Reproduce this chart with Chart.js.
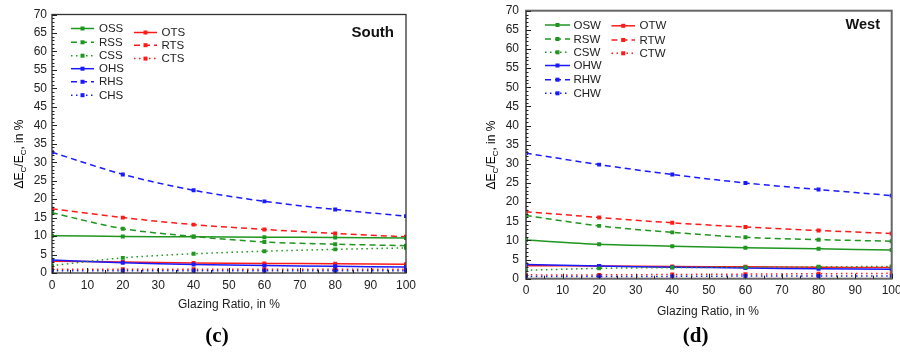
<!DOCTYPE html>
<html><head><meta charset="utf-8">
<script src="https://cdn.jsdelivr.net/npm/chart.js@4.4.0/dist/chart.umd.min.js"></script>
<style>
html,body{margin:0;padding:0;background:#fff;width:900px;height:352px;overflow:hidden}
.w{position:absolute;top:0;width:450px;height:352px}
canvas{display:block}
</style></head><body>
<div class="w" style="left:0"><canvas id="c1" width="450" height="352" style="width:450px;height:352px"></canvas></div>
<div class="w" style="left:450px"><canvas id="c2" width="450" height="352" style="width:450px;height:352px"></canvas></div>
<script>
// ---- data ----
const glazingRatio = [0, 20, 40, 60, 80, 100];
const yTickLabels = [0, 5, 10, 15, 20, 25, 30, 35, 40, 45, 50, 55, 60, 65, 70];
const xTickLabels = [0, 10, 20, 30, 40, 50, 60, 70, 80, 90, 100];

// South
const OSS = [10.1, 9.9, 9.8, 9.7, 9.6, 9.5];
const RSS = [16.3, 12.0, 9.9, 8.4, 7.8, 7.4];
const CSS = [2.0, 4.1, 5.2, 5.9, 6.4, 6.8];
const OHS = [3.5, 2.8, 2.3, 2.0, 1.8, 1.6];
const RHS = [32.7, 26.7, 22.4, 19.4, 17.2, 15.4];
const CHS = [0.6, 0.6, 0.6, 0.6, 0.6, 0.6];
const OTS = [3.2, 3.0, 2.7, 2.6, 2.5, 2.4];
const RTS = [17.4, 15.0, 13.1, 11.8, 10.7, 9.8];
const CTS = [1.0, 1.0, 1.0, 1.0, 1.0, 1.0];

// West
const OSW = [10.1, 9.0, 8.5, 8.1, 7.8, 7.5];
const RSW = [16.5, 13.8, 12.1, 10.8, 10.2, 9.8];
const CSW = [2.2, 2.7, 2.9, 3.0, 3.1, 3.2];
const OHW = [3.7, 3.3, 3.0, 2.8, 2.6, 2.5];
const RHW = [32.8, 29.8, 27.2, 25.0, 23.3, 21.7];
const CHW = [0.6, 0.6, 0.6, 0.7, 0.7, 0.7];
const OTW = [3.4, 3.3, 3.2, 3.1, 3.0, 2.9];
const RTW = [17.5, 16.0, 14.6, 13.5, 12.6, 11.8];
const CTW = [1.0, 1.0, 1.1, 1.2, 1.3, 1.4];

// ---- styles ----
const GREEN = '#1f961f', RED = '#ff1a1a', BLUE = '#1a1aff';
const SOLID = [], DASH = [6, 4], DOT = [1.5, 3.5];
const FONT = '"Liberation Sans", Arial, sans-serif';

function ds(label, data, color, dash) {
  return {
    label, data: data.map((v, i) => ({x: glazingRatio[i], y: v})),
    borderColor: color, backgroundColor: color, borderWidth: 1.5,
    borderDash: dash, pointStyle: 'rect', pointRadius: 2.8, pointBorderWidth: 0,
    pointHoverRadius: 2.8, tension: 0.3, fill: false
  };
}

function makeChart(id, sets, L) {
  const plugin = {
    id: 'deco' + id,
    beforeDraw(chart) {
      const ctx = chart.ctx;
      if (L.bg) { ctx.save(); ctx.fillStyle = L.bg; ctx.fillRect(L.bg[1] || 35, 0, 415, 317); ctx.restore(); }
    },
    afterDraw(chart) {
      const ctx = chart.ctx, a = chart.chartArea, xs = chart.scales.x, ys = chart.scales.y;
      ctx.save();
      // frame
      ctx.strokeStyle = L.frameColor; ctx.lineWidth = L.frameWidth; ctx.setLineDash([]);
      ctx.strokeRect(a.left, a.top, a.right - a.left, a.bottom - a.top);
      // ticks
      ctx.lineWidth = 1; ctx.strokeStyle = '#222';
      ctx.beginPath();
      for (let v = 0; v <= 70; v++) {
        const y = Math.round(ys.getPixelForValue(v)) + 0.5;
        const len = v % 5 === 0 ? 5 : 2.5;
        ctx.moveTo(a.left, y); ctx.lineTo(a.left + len, y);
      }
      for (let v = 0; v <= 100; v += 5) {
        const x = Math.round(xs.getPixelForValue(v)) + 0.5;
        const len = v % 10 === 0 ? 5 : 3;
        ctx.moveTo(x, a.bottom); ctx.lineTo(x, a.bottom - len);
      }
      ctx.stroke();
      // legend
      L.legend.forEach(col => {
        col.items.forEach((name, i) => {
          const d = chart.data.datasets.find(s => s.label === name);
          const y = col.rows[i];
          ctx.strokeStyle = d.borderColor; ctx.lineWidth = 1.5; ctx.setLineDash(d.borderDash);
          ctx.beginPath(); ctx.moveTo(col.x0, y); ctx.lineTo(col.x1, y); ctx.stroke();
          ctx.setLineDash([]);
          ctx.fillStyle = d.borderColor;
          const mx = (col.x0 + col.x1) / 2;
          ctx.fillRect(mx - 2, y - 2, 4, 4);
          ctx.fillStyle = '#222'; ctx.font = '11.5px ' + FONT;
          ctx.textAlign = 'left'; ctx.textBaseline = 'middle';
          ctx.fillText(name, col.tx, y + 0.5);
        });
      });
      // panel label
      ctx.fillStyle = '#111'; ctx.font = 'bold ' + L.labelSize + 'px ' + FONT;
      ctx.textAlign = 'right'; ctx.textBaseline = 'middle';
      ctx.fillText(L.label, L.labelX, L.labelY);
      // x title
      ctx.font = '12px ' + FONT; ctx.fillStyle = '#222'; ctx.textAlign = 'center';
      ctx.fillText('Glazing Ratio, in %', L.xtX, L.xtY);
      // caption
      ctx.font = 'bold 21px "Liberation Serif", "DejaVu Serif", serif'; ctx.fillStyle = '#000';
      ctx.fillText('(' + L.cap + ')', L.capX, L.capY);
      // y title with subscripts
      ctx.translate(L.ytX, L.ytY); ctx.rotate(-Math.PI / 2);
      const parts = [['ΔE', 0], ['C', 1], ['/E', 0], ['C', 1], [', in %', 0]];
      const big = '12px ' + FONT, small = '8px ' + FONT;
      let w = 0;
      parts.forEach(p => { ctx.font = p[1] ? small : big; w += ctx.measureText(p[0]).width; });
      let cx = -w / 2;
      ctx.textAlign = 'left';
      parts.forEach(p => {
        ctx.font = p[1] ? small : big;
        ctx.fillText(p[0], cx, p[1] ? 4 : 0);
        cx += ctx.measureText(p[0]).width;
      });
      ctx.restore();
    }
  };
  return new Chart(document.getElementById(id), {
    type: 'line',
    data: {datasets: sets},
    options: {
      responsive: false, animation: false, events: [],
      layout: {padding: L.pad},
      plugins: {legend: {display: false}, tooltip: {enabled: false}},
      scales: {
        x: {
          type: 'linear', min: 0, max: 100,
          afterBuildTicks: s => { s.ticks = xTickLabels.map(v => ({value: v})); },
          ticks: {color: '#222', font: {family: FONT, size: 12}, padding: 5, maxRotation: 0, autoSkip: false},
          grid: {display: false, drawTicks: false}, border: {display: false},
          afterFit: s => { s.height = L.xh; s.paddingLeft = 0; s.paddingRight = 0; }
        },
        y: {
          min: 0, max: 70,
          afterBuildTicks: s => { s.ticks = yTickLabels.map(v => ({value: v})); },
          ticks: {color: '#222', font: {family: FONT, size: 12}, padding: L.ypad, autoSkip: false},
          grid: {display: false, drawTicks: false}, border: {display: false},
          afterFit: s => { s.width = L.yw; s.paddingTop = 0; s.paddingBottom = 0; }
        }
      }
    },
    plugins: [plugin]
  });
}

makeChart('c1', [
  ds('OSS', OSS, GREEN, SOLID), ds('RSS', RSS, GREEN, DASH), ds('CSS', CSS, GREEN, DOT),
  ds('OHS', OHS, BLUE, SOLID), ds('RHS', RHS, BLUE, DASH), ds('CHS', CHS, BLUE, DOT),
  ds('OTS', OTS, RED, SOLID), ds('RTS', RTS, RED, DASH), ds('CTS', CTS, RED, DOT)
], {
  pad: {left: 0, right: 44, top: 14.5, bottom: 0}, yw: 52, xh: 79, ypad: 5,
  frameColor: '#333', frameWidth: 1.3,
  legend: [
    {x0: 71, x1: 94, tx: 99, items: ['OSS', 'RSS', 'CSS', 'OHS', 'RHS', 'CHS'], rows: [28.5, 42.3, 55.7, 68.7, 81.8, 95.2]},
    {x0: 134, x1: 157, tx: 161.5, items: ['OTS', 'RTS', 'CTS'], rows: [32.5, 45.2, 58.6]}
  ],
  label: 'South', labelX: 394, labelY: 33, labelSize: 15,
  xtX: 229, xtY: 305, capX: 217, capY: 337, cap: 'c', ytX: 20, ytY: 154
});

makeChart('c2', [
  ds('OSW', OSW, GREEN, SOLID), ds('RSW', RSW, GREEN, DASH), ds('CSW', CSW, GREEN, DOT),
  ds('OHW', OHW, BLUE, SOLID), ds('RHW', RHW, BLUE, DASH), ds('CHW', CHW, BLUE, DOT),
  ds('OTW', OTW, RED, SOLID), ds('RTW', RTW, RED, DASH), ds('CTW', CTW, RED, DOT)
], {
  pad: {left: 0, right: 8.3, top: 10.7, bottom: 0}, yw: 76, xh: 73.3, ypad: 7,
  frameColor: '#666', frameWidth: 2,
  legend: [
    {x0: 95, x1: 120, tx: 123.5, items: ['OSW', 'RSW', 'CSW', 'OHW', 'RHW', 'CHW'], rows: [25, 39, 52.3, 65.5, 79.7, 93.3]},
    {x0: 161.5, x1: 185, tx: 189.5, items: ['OTW', 'RTW', 'CTW'], rows: [25.8, 40, 53.3]}
  ],
  label: 'West', labelX: 430, labelY: 25, labelSize: 14.5,
  xtX: 258, xtY: 311.5, capX: 245.7, capY: 337, cap: 'd', ytX: 42, ytY: 155
});
</script>
</body></html>
